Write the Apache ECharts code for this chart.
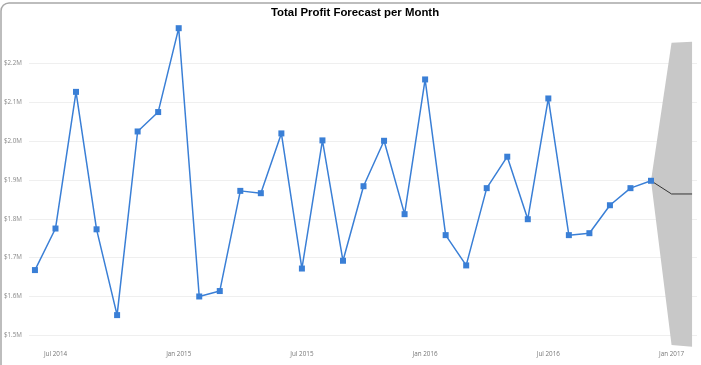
<!DOCTYPE html>
<html>
<head>
<meta charset="utf-8">
<script src="https://cdn.jsdelivr.net/npm/echarts@6/dist/echarts.min.js"></script>
<style>
html,body{margin:0;padding:0;background:#fff;}
#chart{width:701px;height:365px;}
</style>
</head>
<body>
<div id="chart"></div>
<script>
// Month categories (index 0 = Jun 2014)
const months = ['Jun 2014','Jul 2014','Aug 2014','Sep 2014','Oct 2014','Nov 2014','Dec 2014',
  'Jan 2015','Feb 2015','Mar 2015','Apr 2015','May 2015','Jun 2015','Jul 2015','Aug 2015','Sep 2015','Oct 2015','Nov 2015','Dec 2015',
  'Jan 2016','Feb 2016','Mar 2016','Apr 2016','May 2016','Jun 2016','Jul 2016','Aug 2016','Sep 2016','Oct 2016','Nov 2016','Dec 2016',
  'Jan 2017','Feb 2017'];
// Actual total profit ($M), Jun 2014 .. Dec 2016
const actualProfit = [1.668,1.775,2.127,1.773,1.552,2.025,2.075,2.291,1.600,1.614,
  1.872,1.866,2.020,1.672,2.002,1.692,1.884,2.001,1.812,2.159,
  1.758,1.680,1.879,1.960,1.799,2.110,1.758,1.763,1.835,1.879,1.898];
// Forecast (Dec 2016 .. Feb 2017)
const forecastMonths = ['Dec 2016','Jan 2017','Feb 2017'];
const forecastValue = [1.898,1.864,1.864];
const forecastUpper = [1.898,2.2535,2.256];
const forecastLower = [1.898,1.475,1.4706];
// Axis labels
const xLabelMonths = ['Jul 2014','Jan 2015','Jul 2015','Jan 2016','Jul 2016','Jan 2017'];

const idx = m => months.indexOf(m);
const actualData = actualProfit.map((v,i)=>[i,v]);
const fcData = forecastMonths.map((m,i)=>[idx(m),forecastValue[i]]);
const bandData = forecastMonths.map((m,i)=>[idx(m),forecastLower[i],forecastUpper[i]]);

const chart = echarts.init(document.getElementById('chart'));
chart.setOption({
  animation:false,
  backgroundColor:'#fff',
  title:{
    text:'Total Profit Forecast per Month',
    left:271, top:7.5, padding:0,
    textStyle:{fontFamily:'Arial, "Liberation Sans", sans-serif',fontSize:11.4,fontWeight:'bold',color:'#000'}
  },
  graphic:[{
    type:'rect', left:-1.5, top:0.5, silent:true,
    shape:{x:0,y:0,width:740,height:420,r:8},
    style:{fill:'none',stroke:'#a8a8a8',lineWidth:1.5}
  }],
  grid:{left:29,right:4,top:24.7,bottom:18.05,containLabel:false,outerBoundsMode:'none'},
  xAxis:{
    type:'value', min:-0.29, max:32.24,
    axisLine:{show:false}, axisTick:{show:false}, splitLine:{show:false},
    axisLabel:{
      customValues: xLabelMonths.map(idx),
      formatter: v => months[Math.round(v)] || '',
      fontSize:6.3, color:'#777', margin:4,
      fontFamily:'"Segoe UI","Open Sans",Arial,sans-serif'
    }
  },
  yAxis:{
    type:'value', min:1.47, max:2.3, splitNumber:8,
    axisLine:{show:false}, axisTick:{show:false},
    splitLine:{show:true,showMinLine:false,showMaxLine:false,lineStyle:{color:'#efefef',width:1}},
    axisLabel:{
      showMinLabel:false, showMaxLabel:false,
      formatter: v => '$' + v.toFixed(1) + 'M',
      fontSize:6.3, color:'#888', margin:7,
      fontFamily:'"Segoe UI","Open Sans",Arial,sans-serif'
    }
  },
  series:[
    {
      type:'custom', data:[0], silent:true, z:1,
      renderItem:(params,api)=>{
        const up = bandData.map(d=>api.coord([d[0],d[2]]));
        const lo = bandData.map(d=>api.coord([d[0],d[1]])).reverse();
        return {type:'polygon',shape:{points:up.concat(lo)},style:{fill:'#c8c8c8'}};
      }
    },
    {
      type:'line', data:fcData, showSymbol:false, symbol:'none', z:2,
      lineStyle:{color:'#333',width:1}
    },
    {
      type:'line', data:actualData, z:3,
      symbol:'rect', symbolSize:6,
      lineStyle:{color:'#3a7fd6',width:1.5},
      itemStyle:{color:'#3a7fd6'}
    }
  ]
});
</script>
</body>
</html>
